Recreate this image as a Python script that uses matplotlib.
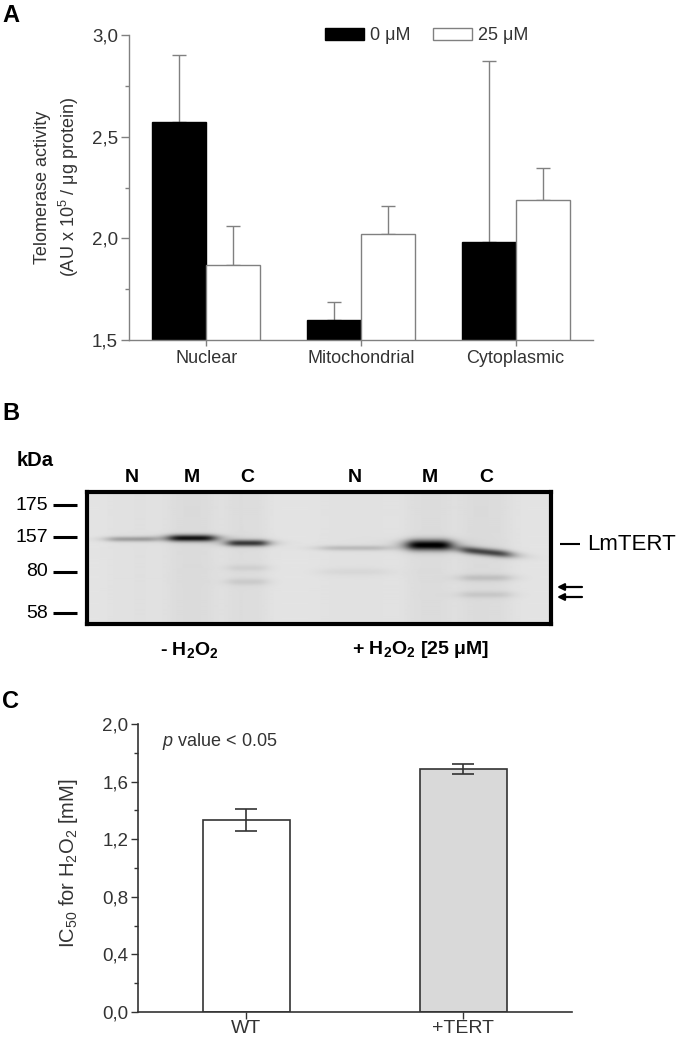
import numpy as np
import matplotlib
matplotlib.use('Agg')
import matplotlib.pyplot as plt
from matplotlib.patches import Patch
from matplotlib.ticker import MultipleLocator, FuncFormatter

plt.rcParams['font.family'] = ['Liberation Sans', 'DejaVu Sans']
plt.rcParams['mathtext.fontset'] = 'custom'
plt.rcParams['mathtext.rm'] = 'Liberation Sans'
plt.rcParams['mathtext.it'] = 'Liberation Sans:italic'
plt.rcParams['mathtext.bf'] = 'Liberation Sans:bold'
plt.rcParams['mathtext.default'] = 'regular'

# ---------------- Panel A data ----------------
fractions = ['Nuclear', 'Mitochondrial', 'Cytoplasmic']
act_0uM = [2.57, 1.60, 1.98]
act_0uM_err = [0.33, 0.086, 0.89]
act_25uM = [1.87, 2.02, 2.19]
act_25uM_err = [0.19, 0.137, 0.158]
legend_labels = ['0 μM', '25 μM']

# ---------------- Panel B data (western blot) ----------------
marker_kda = ['175', '157', '80', '58']
marker_pos = [13, 45, 80, 121]           # position along blot height
lane_labels = ['N', 'M', 'C', 'N', 'M', 'C']
lane_centres = [44.5, 104.5, 160, 267.5, 342, 398.5]
lane_widths = [50, 48, 41, 70, 45, 52]
lane_shade = [0.015, 0.035, 0.03, 0.015, 0.03, 0.035]
band_lane = [0, 1, 2, 3, 4, 5, 2, 2, 5, 5, 3]
band_y = [47, 46, 51, 56, 53, 60, 76, 90, 86, 103, 80]
band_sigma = [1.8, 2.4, 2.3, 1.8, 3.8, 2.6, 2.2, 2.4, 2.4, 2.4, 2.5]
band_intensity = [0.26, 0.80, 0.66, 0.15, 0.88, 0.60, 0.05, 0.07, 0.11, 0.08, 0.035]
band_tilt = [0, 0, 0, 0, 0, 0.1, 0, 0, 0, 0, 0]
conditions = ['- H$_2$O$_2$', '+ H$_2$O$_2$ [25 μM]']
condition_lanes = [[0, 1, 2], [3, 4, 5]]
target_band = 'LmTERT'
target_pos = 52
arrow_pos = [95, 105]

# ---------------- Panel C data ----------------
strains = ['WT', '+TERT']
ic50 = [1.333, 1.688]
ic50_err = [0.077, 0.035]
p_text = '$\\mathit{p}$ value < 0.05'

W_PX, H_PX = 680, 1039
fig = plt.figure(figsize=(W_PX / 100, H_PX / 100), dpi=100)


def fx(px):
    return px / W_PX


def fy(py):
    return 1 - py / H_PX


comma = FuncFormatter(lambda v, p: f'{v:.1f}'.replace('.', ','))

# ================= Panel A =================
greyA = '#808080'
txtA = '#333333'
axA = fig.add_axes([fx(129), fy(340), fx(593) - fx(129), fy(35) - fy(340)])
x = np.arange(len(fractions))
w = 0.35
axA.bar(x - w / 2, act_0uM, w, color='black', edgecolor='black', lw=1, zorder=2)
axA.bar(x + w / 2, act_25uM, w, color='white', edgecolor=greyA, lw=1, zorder=2)
axA.errorbar(x - w / 2, act_0uM, yerr=[np.zeros(3), act_0uM_err], fmt='none',
             ecolor=greyA, elinewidth=1, capsize=5, capthick=1, zorder=1)
axA.errorbar(x + w / 2, act_25uM, yerr=[np.zeros(3), act_25uM_err], fmt='none',
             ecolor=greyA, elinewidth=1, capsize=5, capthick=1, zorder=1)
axA.set_xlim(-0.5, 2.5)
axA.set_ylim(1.5, 3.0)
axA.yaxis.set_major_locator(MultipleLocator(0.5))
axA.yaxis.set_minor_locator(MultipleLocator(0.25))
axA.yaxis.set_major_formatter(comma)
axA.set_xticks(x)
axA.set_xticklabels(fractions)
for s in ['top', 'right']:
    axA.spines[s].set_visible(False)
for s in ['left', 'bottom']:
    axA.spines[s].set_color(greyA)
    axA.spines[s].set_linewidth(1)
axA.tick_params(axis='y', which='major', direction='out', length=6, width=1,
                color=greyA, labelcolor=txtA, labelsize=13.5, pad=2)
axA.tick_params(axis='y', which='minor', direction='out', length=3, width=1, color=greyA)
axA.tick_params(axis='x', direction='out', length=4, width=1, color=greyA,
                labelcolor=txtA, labelsize=13, pad=3)
fig.text(fx(57.5), fy(187), 'Telomerase activity\n(AU x 10$^5$ / μg protein)',
         rotation=90, ha='center', va='center', multialignment='center',
         fontsize=13, color=txtA, linespacing=1.35)
handles = [Patch(facecolor='black', edgecolor='black', lw=1),
           Patch(facecolor='white', edgecolor=greyA, lw=1)]
axA.legend(handles, legend_labels, loc='upper left', ncol=2,
           bbox_to_anchor=(fx(325), fy(27)), bbox_transform=fig.transFigure,
           frameon=False, borderpad=0, borderaxespad=0, fontsize=13,
           handlelength=2.15, handleheight=0.67, handletextpad=0.35,
           columnspacing=1.25, labelcolor=txtA)
fig.text(fx(2), fy(4), 'A', ha='left', va='top', fontsize=17, fontweight='bold')

# ================= Panel B =================
BL, BR, BT, BB = 87.5, 551, 492, 624
W_blot, H_blot = BR - BL, BB - BT
axB = fig.add_axes([fx(BL), fy(BB), fx(BR) - fx(BL), fy(BT) - fy(BB)])
nx, ny = int(W_blot) + 1, int(H_blot) + 1
X, Y = np.meshgrid(np.linspace(0, W_blot, nx), np.linspace(0, H_blot, ny))
img = np.full_like(X, 0.895)
for cx, lw_, sh in zip(lane_centres, lane_widths, lane_shade):
    img -= sh / (1 + np.abs((X - cx) / (lw_ / 2)) ** 4)
for li, cy, sy, dk, tl in zip(band_lane, band_y, band_sigma, band_intensity, band_tilt):
    cx = lane_centres[li]
    wd = lane_widths[li]
    yc = cy + tl * (X - cx)
    img -= dk / (1 + np.abs((X - cx) / (wd / 2)) ** 5) * np.exp(-0.5 * ((Y - yc) / sy) ** 2)
img = np.clip(img, 0, 1)
axB.imshow(img, cmap='gray', vmin=0, vmax=1, extent=(0, W_blot, H_blot, 0),
           aspect='auto', interpolation='bilinear')
axB.set_xlim(0, W_blot)
axB.set_ylim(H_blot, 0)
axB.set_xticks([])
axB.set_yticks([])
for s in axB.spines.values():
    s.set_linewidth(3)
    s.set_color('black')

for lab, pos in zip(marker_kda, marker_pos):
    axB.text(-39.5, pos, lab, ha='right', va='center', fontsize=14, clip_on=False)
    axB.plot([-34.5, -10.5], [pos, pos], color='black', lw=2.2, clip_on=False,
             solid_capstyle='butt')
axB.text(-70.5, -31, 'kDa', ha='left', va='center', fontsize=14.5, fontweight='bold')
for lab, cx in zip(lane_labels, lane_centres):
    axB.text(cx, -15, lab, ha='center', va='center', fontsize=14, fontweight='bold')
for cond, lanes in zip(conditions, condition_lanes):
    cx = (lane_centres[lanes[0]] + lane_centres[lanes[-1]]) / 2
    axB.text(cx, 158, cond, ha='center', va='center', fontsize=14, fontweight='bold')
axB.plot([472.5, 492.5], [target_pos, target_pos], color='black', lw=1.5,
         clip_on=False, solid_capstyle='butt')
axB.text(499.5, target_pos, target_band, ha='left', va='center', fontsize=16)
for ap in arrow_pos:
    axB.annotate('', xy=(469.5, ap), xytext=(494.5, ap),
                 arrowprops=dict(arrowstyle='-|>', color='black', lw=1.6,
                                 mutation_scale=10, shrinkA=0, shrinkB=0),
                 annotation_clip=False)
fig.text(fx(2), fy(402), 'B', ha='left', va='top', fontsize=17, fontweight='bold')

# ================= Panel C =================
txtC = '#333333'
axC = fig.add_axes([fx(138), fy(1012), fx(572) - fx(138), fy(724) - fy(1012)])
xc = np.arange(len(strains))
axC.bar(xc, ic50, 0.40, color=['white', '#d9d9d9'], edgecolor=txtC, lw=1.2, zorder=2)
axC.errorbar(xc, ic50, yerr=ic50_err, fmt='none', ecolor=txtC, elinewidth=1.2,
             capsize=8, capthick=1.2, zorder=3)
axC.set_xlim(-0.5, 1.5)
axC.set_ylim(0, 2.0)
axC.yaxis.set_major_locator(MultipleLocator(0.4))
axC.yaxis.set_minor_locator(MultipleLocator(0.2))
axC.yaxis.set_major_formatter(comma)
axC.set_xticks(xc)
axC.set_xticklabels(strains, fontsize=14)
for s in ['top', 'right']:
    axC.spines[s].set_visible(False)
for s in ['left', 'bottom']:
    axC.spines[s].set_color(txtC)
    axC.spines[s].set_linewidth(1.2)
axC.tick_params(axis='y', which='major', direction='out', length=5, width=1,
                color=txtC, labelcolor=txtC, labelsize=13.5, pad=2)
axC.tick_params(axis='y', which='minor', direction='out', length=3, width=1, color=txtC)
axC.tick_params(axis='x', direction='out', length=5, width=1, color=txtC,
                labelcolor=txtC, pad=1)
axC.text(0.055, 0.94, p_text, transform=axC.transAxes, ha='left', va='center',
         fontsize=13, color=txtC)
fig.text(fx(69), fy(863), 'IC$_{50}$ for H$_2$O$_2$ [mM]', rotation=90,
         ha='center', va='center', fontsize=14.5, color=txtC)
fig.text(fx(2), fy(690), 'C', ha='left', va='top', fontsize=17, fontweight='bold')

fig.savefig('out.png', dpi=100)
